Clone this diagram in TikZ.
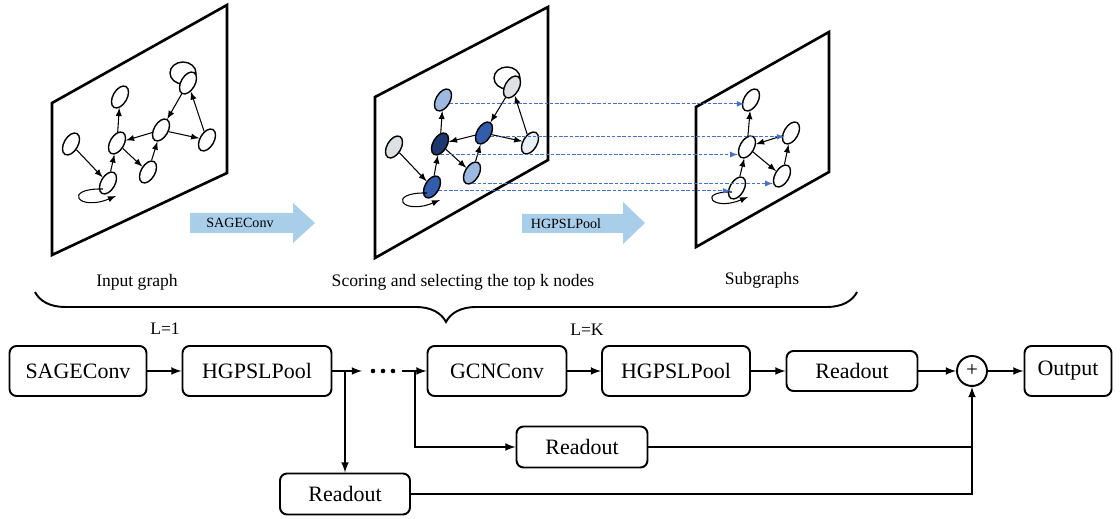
\documentclass[tikz,border=0pt]{standalone}
\usepackage{fontspec}
\setmainfont{Liberation Serif}
\usetikzlibrary{shapes.geometric,decorations.pathreplacing}

\definecolor{arrowblue}{RGB}{168,206,234}
\definecolor{dashblue}{RGB}{68,114,196}
\definecolor{navy}{RGB}{31,56,112}
\definecolor{midblue}{RGB}{52,92,172}
\definecolor{paleblue}{RGB}{157,185,226}
\definecolor{palegrey}{RGB}{222,224,228}
\definecolor{whiteblue}{RGB}{234,239,247}

\tikzset{
  gnode/.style={draw, ellipse, inner sep=0pt, minimum width=0.28cm, minimum height=0.48cm, rotate=-30, line width=0.8pt, fill=white},
  garrow/.style={->, line width=0.6pt},
  panel/.style={line width=1.5pt, line join=miter},
  block/.style={draw, rounded corners=4pt, line width=1.1pt, minimum height=1cm, font=\fontsize{12.5}{14}\selectfont},
  flow/.style={->, line width=1pt},
  dashline/.style={->, dashblue, line width=0.5pt, dash pattern=on 2pt off 1pt},
}

\begin{document}
\begin{tikzpicture}[x=0.02cm, y=-0.02cm, >=latex, font=\fontsize{10}{12}\selectfont]
\useasboundingbox (0,0) rectangle (1120,519);

% Input graph
% Frame, self loops and nodes
  \draw[panel] (52,103) -- (227,5) -- (227,173) -- (52,255) -- cycle;
  \draw[line width=0.8pt] (183,73) ellipse [x radius=13, y radius=11];
  \node[gnode] (a1) at (120,97) {};
  \node[gnode] (a2) at (71,144) {};
  \node[gnode] (a3) at (117,143) {};
  \node[gnode] (a4) at (108,183) {};
  \node[gnode] (a5) at (148,172) {};
  \node[gnode] (a6) at (161,130) {};
  \node[gnode] (a7) at (188,83) {};
  \node[gnode] (a8) at (207,140) {};

  \draw[garrow] (a2) -- (a4);
  \draw[garrow] (a4) -- (a3);
  \draw[garrow] (a3) -- (a1);
  \draw[garrow] (a3) -- (a5);
  \draw[garrow] (a6) -- (a3);
  \draw[garrow] (a5) -- (a6);
  \draw[garrow] (a7) -- (a6);
  \draw[garrow] (a8) -- (a7);
  \draw[garrow] (a6) -- (a8);
  \draw[garrow] (103,189) .. controls (62,188) and (78,212) .. (116,196);

% Scoring and selecting the top k nodes
% Same graph, nodes shaded by score
\begin{scope}[shift={(323,3)}]
  \draw[panel] (52,94) -- (225,4) -- (225,157) -- (52,255) -- cycle;
  \draw[line width=0.8pt] (184,75) ellipse [x radius=13, y radius=11];
  \node[gnode, fill=paleblue] (b1) at (120,97) {};
  \node[gnode, fill=palegrey] (b2) at (71,144) {};
  \node[gnode, fill=navy] (b3) at (117,141) {};
  \node[gnode, fill=midblue] (b4) at (109,184) {};
  \node[gnode, fill=paleblue] (b5) at (149,170) {};
  \node[gnode, fill=midblue] (b6) at (161,130) {};
  \node[gnode, fill=palegrey] (b7) at (189,84) {};
  \node[gnode, fill=whiteblue] (b8) at (207,140) {};

  \draw[garrow] (b2) -- (b4);
  \draw[garrow] (b4) -- (b3);
  \draw[garrow] (b3) -- (b1);
  \draw[garrow] (b3) -- (b5);
  \draw[garrow] (b6) -- (b3);
  \draw[garrow] (b5) -- (b6);
  \draw[garrow] (b7) -- (b6);
  \draw[garrow] (b8) -- (b7);
  \draw[garrow] (b6) -- (b8);
  \draw[garrow] (104,190) .. controls (63,189) and (79,213) .. (117,197);
\end{scope}

% Subgraphs
% Kept nodes only
  \draw[panel] (696,107) -- (829,32) -- (829,172) -- (696,247) -- cycle;
  \node[gnode] (c1) at (751,100) {};
  \node[gnode] (c2) at (747,147) {};
  \node[gnode] (c3) at (791,133) {};
  \node[gnode] (c4) at (782,176) {};
  \node[gnode] (c5) at (737,188) {};

  \draw[garrow] (c2) -- (c1);
  \draw[garrow] (c3) -- (c2);
  \draw[garrow] (c2) -- (c4);
  \draw[garrow] (c4) -- (c3);
  \draw[garrow] (c5) -- (c2);
  \draw[garrow] (732,192) .. controls (697,191) and (712,212) .. (748,197);

% Dashed links from selected nodes to subgraph
  \draw[dashline] (b1.east) -- (b1.east -| c1.west);
  \draw[dashline] (b6.east) -- (b6.east -| c3.west);
  \draw[dashline] (b3.south east) -- (b3.south east -| c2.south west);
  \draw[dashline] (b5.south east) -- (b5.south east -| c4.south west);
  \draw[dashline] (b4.east) -- (b4.east -| c5.west);

% Block arrows
  \fill[arrowblue] (190,213) -- (293,213) -- (293,203) -- (315,223) -- (293,243) -- (293,233) -- (190,233) -- cycle;
  \node[font=\fontsize{8}{10}\selectfont] (sagelbl) at (240,223) {SAGEConv};
  \fill[arrowblue] (522,214) -- (623,214) -- (623,202) -- (645,223) -- (623,244) -- (623,233) -- (522,233) -- cycle;
  \node[font=\fontsize{8}{10}\selectfont] (poollbl) at (566,224) {HGPSLPool};

% Captions and brace
  \node (inlbl) at (137,282) {Input graph};
  \node (scorelbl) at (463,282) {Scoring and selecting the top k nodes};
  \node (sublbl) at (762,280) {Subgraphs};
  \draw[line width=1.1pt, decorate, decoration={brace, mirror, amplitude=0.6cm}] (35,292) -- (857,292);

% Pipeline
  \node[block, minimum width=2.74cm] (sage) at (78,371) {SAGEConv};
  \node[block, minimum width=2.98cm] (pool1) at (257,371) {HGPSLPool};
  \node[block, minimum width=2.78cm] (gcn) at (497,371) {GCNConv};
  \node[block, minimum width=2.96cm] (pool2) at (676,371) {HGPSLPool};
  \node[block, minimum width=2.62cm, minimum height=0.8cm] (readk) at (852,371) {Readout};
  \node[draw, circle, minimum size=0.6cm, inner sep=0pt, line width=1.1pt, font=\fontsize{12}{14}\selectfont] (plus) at (972,371) {+};
  \node[block, minimum width=1.74cm] (output) at (1068,371) {Output};
  \node[block, minimum width=2.62cm, minimum height=0.82cm] (readmid) at (582,447) {Readout};
  \node[block, minimum width=2.6cm, minimum height=0.82cm] (readlow) at (345,494) {Readout};
  \node (lone) at (165,329) {L=1};
  \node (lk) at (587,330) {L=K};

  \coordinate (split1) at (readlow.north |- pool1.east);
  \coordinate (dotsin) at (362,371);
  \coordinate (dotsout) at (402,371);
  \coordinate (split2) at (415,371);

  \draw[flow] (sage) -- (pool1);
  \draw[flow] (pool1) -- (dotsin);
  \foreach \x in {373,383,393}
    \fill (\x,371) circle (2.3);
  \draw[flow] (dotsout) -- (gcn);
  \draw[flow] (split1) -- (readlow);
  \draw[flow] (split2) |- (readmid);
  \draw[flow] (gcn) -- (pool2);
  \draw[flow] (pool2) -- (readk);
  \draw[flow] (readk) -- (plus);
  \draw[flow] (plus) -- (output);
  \draw[line width=1pt] (readmid) -- (readmid -| plus);
  \draw[flow] (readlow) -| (plus);
\end{tikzpicture}
\end{document}
